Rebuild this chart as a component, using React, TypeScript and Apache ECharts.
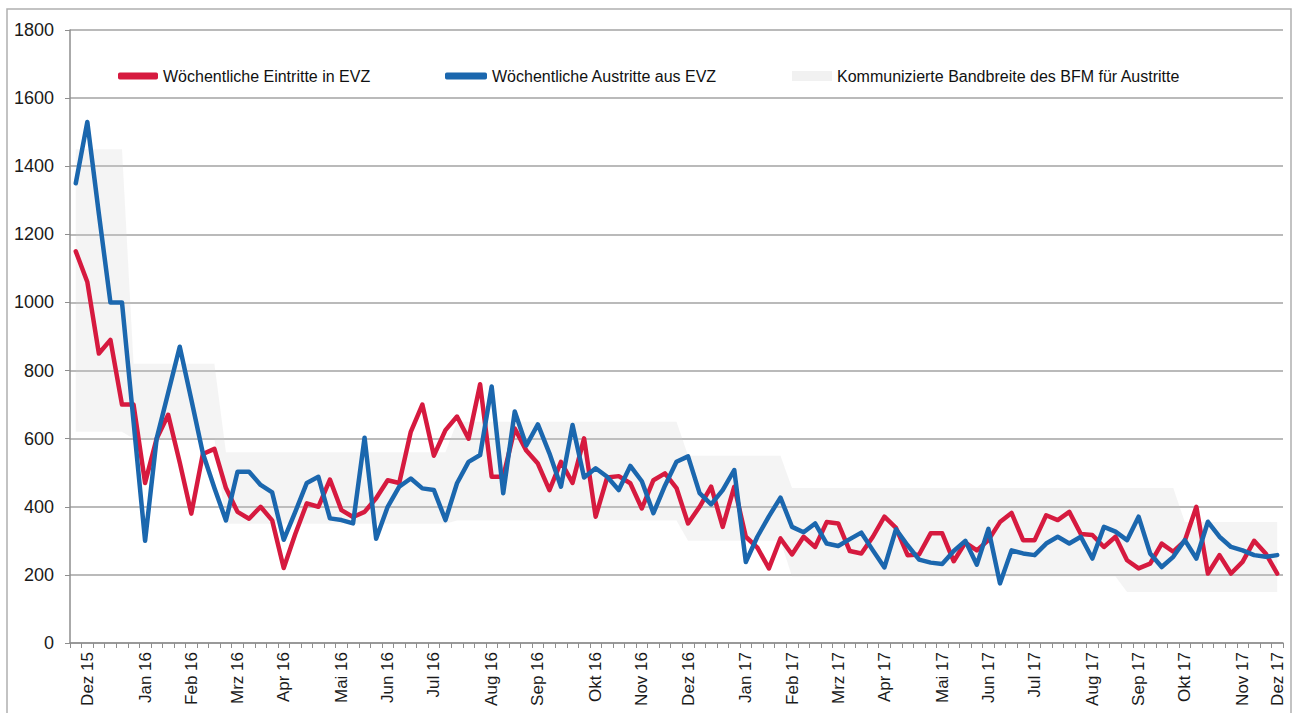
import React, { useEffect, useRef } from "react";
import * as echarts from "echarts";

// Weekly values, Dez 15 – Dez 17 (105 weeks)
const eintritte = [
  1150, 1060, 850, 890, 700, 700, 470, 600, 670, 530,
  380, 555, 570, 455, 385, 365, 400, 360, 220, 320,
  410, 400, 480, 390, 370, 385, 425, 478, 470, 620,
  700, 550, 625, 665, 600, 760, 488, 488, 630, 565,
  527, 449, 532, 470, 601, 371, 486, 490, 469, 395,
  478, 498, 455, 351, 400, 459, 341, 459, 312, 280,
  219, 307, 260, 312, 282, 355, 351, 270, 263, 312,
  371, 338, 258, 260, 322, 322, 240, 295, 272, 302,
  355, 382, 302, 302, 375, 361, 385, 320, 317, 282,
  312, 243, 219, 233, 292, 268, 300, 400, 204, 258,
  204, 238, 300, 263, 204,
];

const austritte = [
  1350, 1530, 1260, 1000, 1000, 650, 300, 600, 735, 870,
  715, 557, 455, 360, 503, 503, 464, 442, 303, 385,
  470, 488, 366, 361, 351, 603, 306, 400, 459, 483,
  454, 449, 361, 469, 532, 552, 753, 440, 680, 580,
  642, 557, 459, 640, 486, 513, 488, 449, 520, 475,
  381, 462, 532, 548, 440, 407, 449, 508, 238, 312,
  372, 427, 341, 325, 351, 292, 285, 305, 324, 272,
  222, 334, 287, 245, 236, 232, 270, 300, 230, 335,
  175, 272, 263, 258, 292, 312, 292, 312, 248, 341,
  327, 302, 371, 263, 223, 253, 302, 248, 356, 312,
  282, 272, 258, 253, 258,
];

// Month tick labels and the week at which each appears
const monthLabels = [
  "Dez 15", "Jan 16", "Feb 16", "Mrz 16", "Apr 16", "Mai 16", "Jun 16", "Jul 16",
  "Aug 16", "Sep 16", "Okt 16", "Nov 16", "Dez 16", "Jan 17", "Feb 17", "Mrz 17",
  "Apr 17", "Mai 17", "Jun 17", "Jul 17", "Aug 17", "Sep 17", "Okt 17", "Nov 17", "Dez 17",
];
const monthWeeks = [
  1, 6, 10, 14, 18, 23, 27, 31, 36, 40, 45, 49, 53, 58, 62, 66, 70, 75, 79, 83, 88, 92, 96, 101, 104,
];

// Communicated band (BFM) as step segments: starting week, lower, upper
const bandStartWeek = [0, 5, 13, 33, 53, 62, 91, 96];
const bandLower = [620, 600, 350, 360, 300, 195, 150, 150];
const bandUpper = [1450, 820, 560, 650, 550, 455, 455, 355];

const NAME_IN = "Wöchentliche Eintritte in EVZ";
const NAME_OUT = "Wöchentliche Austritte aus EVZ";
const NAME_BAND = "Kommunizierte Bandbreite des BFM für Austritte";

const FONT = "Liberation Sans, Arial, sans-serif";

export default function App() {
  const ref = useRef<HTMLDivElement>(null);

  useEffect(() => {
    if (!ref.current) return;
    const chart = echarts.init(ref.current, null, { renderer: "svg" });

    const weeks = eintritte.map((_, i) => "W" + i);
    const segOf = (k: number) => {
      let s = 0;
      for (let j = 0; j < bandStartWeek.length; j++) if (bandStartWeek[j] <= k) s = j;
      return s;
    };
    const lowArr = weeks.map((_, k) => bandLower[segOf(k)]);
    const diffArr = weeks.map((_, k) => bandUpper[segOf(k)] - bandLower[segOf(k)]);

    const axisGray = "#8e8e8e";

    chart.setOption({
      animation: false,
      backgroundColor: "#ffffff",
      textStyle: { fontFamily: FONT },
      grid: { left: 70, right: 12, top: 30, bottom: 70, containLabel: false },
      legend: [
        {
          left: 113,
          top: 63,
          itemWidth: 40,
          itemHeight: 7,
          data: [{ name: NAME_IN, icon: "roundRect" }],
          textStyle: { fontSize: 16, color: "#111", fontFamily: FONT },
        },
        {
          left: 440,
          top: 63,
          itemWidth: 42,
          itemHeight: 7,
          data: [{ name: NAME_OUT, icon: "roundRect" }],
          textStyle: { fontSize: 16, color: "#111", fontFamily: FONT },
        },
        {
          left: 787,
          top: 63,
          itemWidth: 40,
          itemHeight: 10,
          data: [{ name: NAME_BAND, icon: "rect", itemStyle: { color: "#f1f1f1" } }],
          textStyle: { fontSize: 16, color: "#111", fontFamily: FONT },
        },
      ],
      xAxis: {
        type: "category",
        data: weeks,
        boundaryGap: true,
        axisLine: { lineStyle: { color: axisGray, width: 1.5 } },
        axisTick: { show: true, interval: 0, length: 5, lineStyle: { color: axisGray } },
        axisLabel: {
          interval: 0,
          rotate: 90,
          margin: 9,
          fontSize: 17,
          color: "#1a1a1a",
          fontFamily: FONT,
          formatter: (_v: string, idx: number) => {
            const j = monthWeeks.indexOf(idx);
            return j >= 0 ? monthLabels[j] : "";
          },
        },
        splitLine: { show: false },
      },
      yAxis: {
        type: "value",
        min: 0,
        max: 1800,
        interval: 200,
        axisLine: { show: true, lineStyle: { color: axisGray, width: 1.5 } },
        axisTick: { show: true, length: 5, lineStyle: { color: axisGray } },
        axisLabel: {
          fontSize: 18,
          color: "#1a1a1a",
          margin: 16,
          fontFamily: FONT,
          formatter: (v: number) => String(v),
        },
        splitLine: { lineStyle: { color: "#a3a3a3", width: 1.5 } },
      },
      graphic: [
        {
          type: "rect",
          shape: { x: 7, y: 9, width: 1284, height: 712 },
          style: { fill: "none", stroke: "#b0b0b0", lineWidth: 1.5 },
          silent: true,
        },
      ],
      series: [
        {
          name: "band-base",
          type: "line",
          stack: "band",
          data: lowArr,
          symbol: "none",
          lineStyle: { opacity: 0 },
          silent: true,
          z: 1,
        },
        {
          name: NAME_BAND,
          type: "line",
          stack: "band",
          data: diffArr,
          symbol: "none",
          color: "#e4e4e4",
          lineStyle: { opacity: 0 },
          areaStyle: { color: "rgba(205,205,205,0.32)" },
          silent: true,
          z: 1,
        },
        {
          name: NAME_IN,
          type: "line",
          data: eintritte,
          symbol: "none",
          color: "#d61a3f",
          lineStyle: { width: 4.5, color: "#d61a3f", join: "round", cap: "round" },
          z: 3,
        },
        {
          name: NAME_OUT,
          type: "line",
          data: austritte,
          symbol: "none",
          color: "#1b67ae",
          lineStyle: { width: 4.5, color: "#1b67ae", join: "round", cap: "round" },
          z: 4,
        },
      ],
    });

    return () => chart.dispose();
  }, []);

  return (
    <div
      ref={ref}
      style={{ position: "absolute", left: 0, top: 0, width: 1295, height: 713, background: "#fff" }}
    />
  );
}
